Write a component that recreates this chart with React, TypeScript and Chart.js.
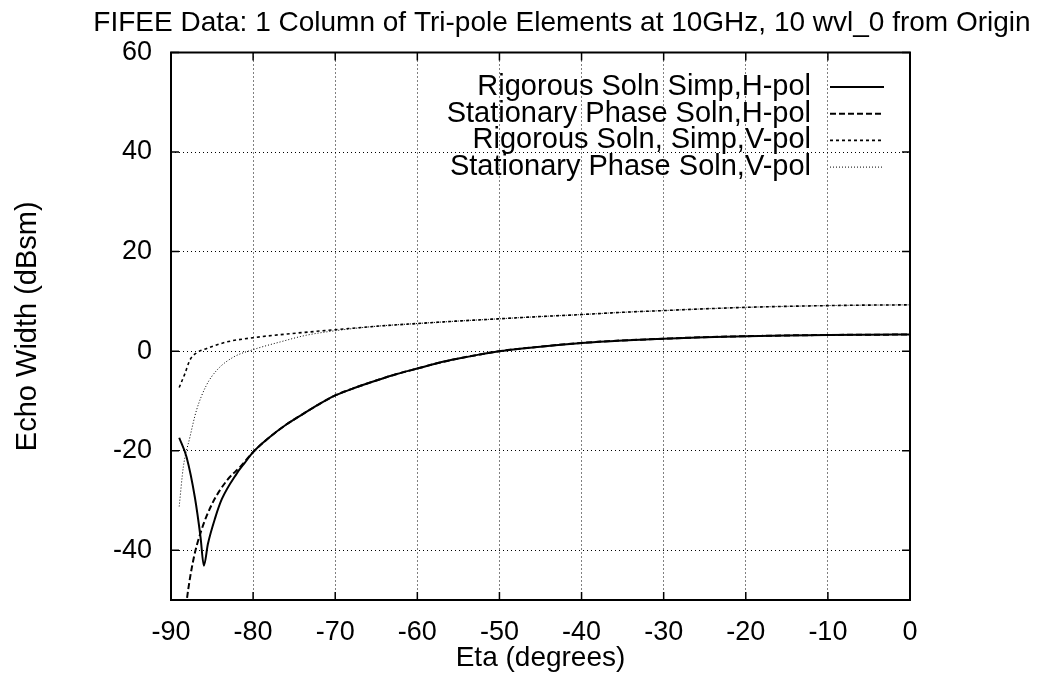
import React, { useEffect, useRef } from 'react';
import { Chart, registerables } from 'chart.js';

Chart.register(...registerables);

const FONT = "'Liberation Sans', Arial, Helvetica, sans-serif";

const titleText = 'FIFEE Data: 1 Column of Tri-pole Elements at 10GHz, 10 wvl_0 from Origin';
const xAxisTitle = 'Eta (degrees)';
const yAxisTitle = 'Echo Width (dBsm)';

const xTicks = [-90, -80, -70, -60, -50, -40, -30, -20, -10, 0];
const yTicks = [-40, -20, 0, 20, 40, 60];

const seriesLabels = [
  'Rigorous Soln Simp,H-pol',
  'Stationary Phase Soln,H-pol',
  'Rigorous Soln, Simp,V-pol',
  'Stationary Phase Soln,V-pol',
];

// Rigorous Soln Simp, H-pol (solid)
const rigHX = [-89, -88.1, -87.1, -86.4, -86.0, -85.5, -84.6, -83.8, -82, -81, -80, -78, -76, -74, -72, -70, -67.5, -65, -62.5, -60, -57.5, -55, -52.5, -50, -45, -40, -35, -30, -25, -20, -15, -10, -5, 0];
const rigHY = [-17.4, -21.3, -29.3, -37.4, -43.1, -38.7, -33.4, -29.7, -24.6, -22.4, -20.3, -17.3, -14.8, -12.7, -10.7, -8.9, -7.3, -5.9, -4.6, -3.5, -2.4, -1.5, -0.7, 0, 0.9, 1.65, 2.15, 2.5, 2.8, 3.0, 3.15, 3.25, 3.3, 3.33];

// Stationary Phase Soln, H-pol (dashed)
const statHX = [-88.4, -88.1, -87.3, -86.3, -85.0, -83.2, -81.6, -80, -78, -76, -74, -72, -70, -67.5, -65, -62.5, -60, -57.5, -55, -52.5, -50, -45, -40, -35, -30, -25, -20, -15, -10, -5, 0];
const statHY = [-55, -50.3, -42.1, -36.0, -30.7, -26.0, -23.3, -20.3, -17.3, -14.8, -12.7, -10.7, -8.9, -7.3, -5.9, -4.6, -3.5, -2.4, -1.5, -0.7, 0, 0.9, 1.65, 2.15, 2.5, 2.8, 3.0, 3.15, 3.25, 3.3, 3.33];

// Rigorous Soln, Simp, V-pol (short dashes)
const rigVX = [-89, -88.3, -87.7, -86.9, -85.7, -83.2, -80, -75.5, -70, -65, -60, -55, -50, -45, -40, -35, -30, -25, -20, -15, -10, -5, 0];
const rigVY = [-7.3, -4.5, -1.8, -0.35, 0.5, 1.85, 2.7, 3.5, 4.3, 5.0, 5.55, 6.05, 6.5, 6.95, 7.35, 7.8, 8.15, 8.5, 8.8, 9.0, 9.15, 9.25, 9.3];

// Stationary Phase Soln, V-pol (dotted)
const statVX = [-89, -88.5, -87.7, -86.9, -85.7, -84.4, -82.4, -80, -76.7, -73.5, -70, -65, -60, -55, -50, -45, -40, -35, -30, -25, -20, -15, -10, -5, 0];
const statVY = [-31.2, -23.3, -17.3, -11.9, -6.9, -3.8, -1.2, 0.3, 1.85, 3.2, 4.1, 5.0, 5.55, 6.05, 6.5, 6.95, 7.35, 7.8, 8.15, 8.5, 8.8, 9.0, 9.15, 9.25, 9.3];

const toPoints = (xs: number[], ys: number[]) => xs.map((x, i) => ({ x, y: ys[i] }));

const titlePlugin = {
  id: 'gnuTitle',
  afterDraw(chart: any) {
    const ctx = chart.ctx;
    ctx.save();
    ctx.fillStyle = '#000';
    ctx.font = `28px ${FONT}`;
    ctx.textAlign = 'center';
    ctx.textBaseline = 'middle';
    ctx.fillText(titleText, 562, 23);
    ctx.restore();
  },
};

const framePlugin = {
  id: 'gnuFrame',
  afterDatasetsDraw(chart: any) {
    const { ctx, chartArea: a, scales } = chart;
    ctx.save();
    ctx.strokeStyle = '#000';
    ctx.lineWidth = 1.5;
    ctx.setLineDash([]);
    const tl = 8;
    ctx.beginPath();
    for (const v of xTicks) {
      const px = scales.x.getPixelForValue(v);
      ctx.moveTo(px, a.bottom);
      ctx.lineTo(px, a.bottom - tl);
      ctx.moveTo(px, a.top);
      ctx.lineTo(px, a.top + tl);
    }
    for (const v of yTicks) {
      const py = scales.y.getPixelForValue(v);
      ctx.moveTo(a.left, py);
      ctx.lineTo(a.left + tl, py);
      ctx.moveTo(a.right, py);
      ctx.lineTo(a.right - tl, py);
    }
    ctx.stroke();
    ctx.lineWidth = 2;
    ctx.strokeRect(a.left, a.top, a.right - a.left, a.bottom - a.top);
    ctx.restore();
  },
};

const legendPlugin = {
  id: 'gnuLegend',
  afterDatasetsDraw(chart: any) {
    const ctx = chart.ctx;
    ctx.save();
    ctx.font = `29px ${FONT}`;
    ctx.textAlign = 'right';
    ctx.textBaseline = 'middle';
    chart.data.datasets.forEach((ds: any, i: number) => {
      const y = 87 + i * 26.7;
      ctx.fillStyle = '#000';
      ctx.fillText(ds.label, 811, y);
      ctx.strokeStyle = ds.borderColor;
      ctx.lineWidth = ds.borderWidth;
      ctx.setLineDash(ds.borderDash || []);
      ctx.beginPath();
      ctx.moveTo(830, y);
      ctx.lineTo(884, y);
      ctx.stroke();
    });
    ctx.restore();
  },
};

export default function App() {
  const ref = useRef<HTMLCanvasElement>(null);

  useEffect(() => {
    if (!ref.current) return;
    const lineDs = (label: string, xs: number[], ys: number[], width: number, dash: number[]) => ({
      label,
      data: toPoints(xs, ys),
      borderColor: '#000',
      backgroundColor: '#000',
      borderWidth: width,
      borderDash: dash,
      pointRadius: 0,
      fill: false,
      cubicInterpolationMode: 'monotone' as const,
    });
    const chart = new Chart(ref.current, {
      type: 'line',
      data: {
        datasets: [
          lineDs(seriesLabels[0], rigHX, rigHY, 2, []),
          lineDs(seriesLabels[1], statHX, statHY, 2, [6, 3]),
          lineDs(seriesLabels[2], rigVX, rigVY, 1.6, [3, 3]),
          lineDs(seriesLabels[3], statVX, statVY, 1, [1, 2]),
        ],
      },
      options: {
        animation: false,
        responsive: false,
        parsing: true,
        layout: { padding: { top: 52.5, right: 129, left: 0, bottom: 0 } },
        plugins: {
          legend: { display: false },
          title: { display: false },
          tooltip: { enabled: false },
        },
        scales: {
          x: {
            type: 'linear',
            min: -90,
            max: 0,
            afterBuildTicks: (s: any) => {
              s.ticks = xTicks.map((v) => ({ value: v }));
            },
            afterFit: (s: any) => {
              s.height = 75;
            },
            ticks: {
              color: '#000',
              font: { family: FONT, size: 27 },
              padding: 16,
              maxRotation: 0,
              autoSkip: false,
            },
            grid: { color: '#000', lineWidth: 1, drawTicks: false },
            border: { display: false, dash: [1, 3] },
            title: {
              display: true,
              text: xAxisTitle,
              color: '#000',
              font: { family: FONT, size: 28 },
              padding: { top: 0, bottom: 0 },
            },
          },
          y: {
            type: 'linear',
            min: -50,
            max: 60,
            afterBuildTicks: (s: any) => {
              s.ticks = yTicks.map((v) => ({ value: v }));
            },
            afterFit: (s: any) => {
              s.width = 171;
            },
            ticks: {
              color: '#000',
              font: { family: FONT, size: 27 },
              padding: 19,
              autoSkip: false,
            },
            grid: { color: '#000', lineWidth: 1, drawTicks: false },
            border: { display: false, dash: [1, 3] },
            title: {
              display: true,
              text: yAxisTitle,
              color: '#000',
              font: { family: FONT, size: 29 },
              padding: { top: 11, bottom: 0 },
            },
          },
        },
      },
      plugins: [titlePlugin, framePlugin, legendPlugin],
    });
    return () => chart.destroy();
  }, []);

  return (
    <div style={{ position: 'absolute', left: 0, top: 0, width: 1039, height: 675, background: '#fff' }}>
      <canvas ref={ref} width={1039} height={675} style={{ display: 'block' }} />
    </div>
  );
}
